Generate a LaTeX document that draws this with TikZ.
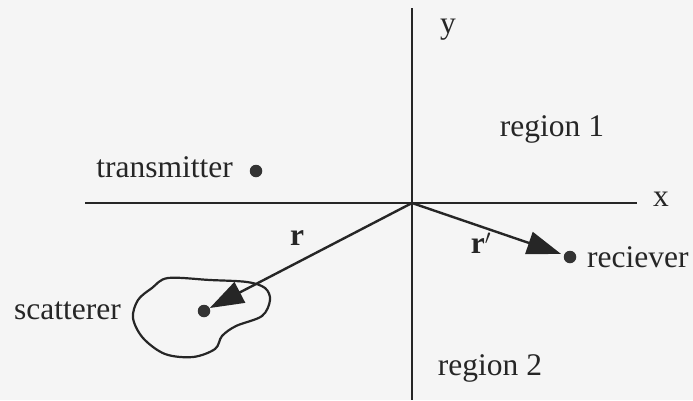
\documentclass[tikz,border=0pt]{standalone}
\usepackage{fontspec}
\setmainfont{Liberation Serif}
\usetikzlibrary{arrows.meta}
\begin{document}
\begin{tikzpicture}[x=1pt,y=-1pt,
  ink/.style={draw=black!85,line width=2.4pt},
  lbl/.style={inner sep=0pt,font=\fontsize{31.5}{36}\selectfont,text=black!85},
  dotnode/.style={circle,fill=black!80,inner sep=0pt,minimum size=12.5pt},
  vec/.style={ink,-{Triangle[length=34pt,width=23pt]}}]
\fill[black!4] (0,0) rectangle (693,400);
\useasboundingbox (0,0) rectangle (693,400);
\coordinate (O) at (412,203);
\coordinate (ytop) at (412,8);
\coordinate (ybot) at (412,400);
\coordinate (xl) at (85,203);
\coordinate (xr) at (637,203);
\draw[ink] (ytop) -- (ybot);
\draw[ink] (xl) -- (xr);
\node[lbl] (ylab) at (448,30) {y};
\node[lbl] (xlab) at (661,199) {x};
\node[lbl] (r1) at (552,129) {region 1};
\node[lbl] (r2) at (490,368) {region 2};
\node[dotnode] (tx) at (256,171) {};
\node[lbl,anchor=east] (txl) at (233,167) {transmitter};
\node[dotnode] (rx) at (570,257) {};
\node[lbl,anchor=west] (rxl) at (587,257) {reciever};
\node[dotnode] (sc) at (204,311) {};
\node[lbl,anchor=east] (scl) at (121,311) {scatterer};
\draw[ink,line width=2.2pt] plot[smooth cycle,tension=0.55] coordinates {
  (168,278) (210,280) (247,282) (265,288) (270,300) (262,316) (236,326)
  (222,336) (215,349) (193,357) (165,354) (143,338) (133,318) (138,300) (152,288)};
\draw[vec] (O) -- (sc);
\draw[vec,shorten >=3pt] (O) -- (rx);
\node[lbl] (rlab) at (297,238) {\textbf{r}};
\node[lbl] (rplab) at (481,243) {\textbf{r}$^{\mathbf{\prime}}$};
\end{tikzpicture}
\end{document}
